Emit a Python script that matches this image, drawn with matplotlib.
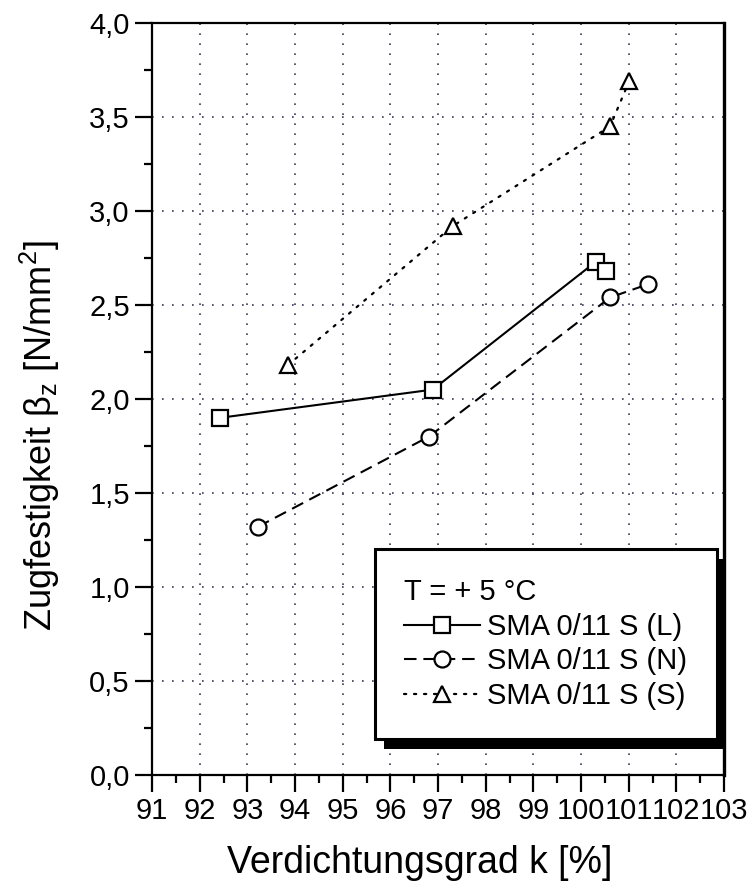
import matplotlib
matplotlib.use('Agg')
from matplotlib import pyplot as plt
from matplotlib.ticker import MultipleLocator, FuncFormatter
from matplotlib.patches import Rectangle
from matplotlib.transforms import IdentityTransform

x_L = [92.43, 96.89, 100.31, 100.52]
y_L = [1.90, 2.05, 2.73, 2.68]
x_N = [93.22, 96.81, 100.61, 101.40]
y_N = [1.32, 1.80, 2.54, 2.61]
x_S = [93.85, 97.31, 100.61, 101.01]
y_S = [2.18, 2.92, 3.45, 3.69]
labels = ["SMA 0/11 S (L)", "SMA 0/11 S (N)", "SMA 0/11 S (S)"]
legend_title = "T = + 5 °C"

plt.rcParams['font.family'] = ['Liberation Sans', 'DejaVu Sans']
plt.rcParams['mathtext.default'] = 'regular'

fig = plt.figure(figsize=(7.54, 8.88), dpi=100)
ax = fig.add_axes([152 / 754, 1 - 775 / 888, 572 / 754, 752 / 888])

mk = dict(markerfacecolor='white', markeredgecolor='black', markeredgewidth=1.6)
ax.plot(x_L, y_L, '-', color='black', lw=1.5, marker='s', markersize=11, label=labels[0], **mk)
ax.plot(x_N, y_N, color='black', lw=1.5, ls=(0, (6, 3.3)), marker='o', markersize=11.5, label=labels[1], **mk)
ax.plot(x_S, y_S, color='black', lw=1.6, ls=(0, (1, 3.5)), dash_capstyle='round',
        marker='^', markersize=12, label=labels[2], **mk)

ax.set_xlim(91, 103)
ax.set_ylim(0, 4.0)
ax.xaxis.set_major_locator(MultipleLocator(1))
ax.xaxis.set_minor_locator(MultipleLocator(0.5))
ax.yaxis.set_major_locator(MultipleLocator(0.5))
ax.yaxis.set_minor_locator(MultipleLocator(0.25))
ax.yaxis.set_major_formatter(FuncFormatter(lambda v, p: f"{v:.1f}".replace('.', ',')))
ax.xaxis.set_major_formatter(FuncFormatter(lambda v, p: f"{v:.0f}"))

ax.tick_params(which='major', direction='out', length=12, width=1.6, labelsize=21, pad=4)
ax.tick_params(which='minor', direction='out', length=6, width=1.6)
ax.grid(True, which='major', color='#3a3a5a', lw=1.2, ls=(0, (1, 5)))

for s in ['left', 'bottom', 'top']:
    ax.spines[s].set_linewidth(1.6)
ax.spines['right'].set_linewidth(2.4)

ax.set_xlabel("Verdichtungsgrad k [%]", fontsize=27)
ax.xaxis.set_label_coords(0.4685, -0.093)
ax.set_ylabel("Zugfestigkeit β$_{z}$ [N/mm$^{2}$]", fontsize=26)
ax.yaxis.set_label_coords(-0.157, 0.451)

leg = ax.legend(loc='lower left', bbox_to_anchor=(0.39, 0.048), borderaxespad=0,
                title=legend_title, fontsize=21, title_fontsize=21, alignment='left',
                handlelength=2.6, handletextpad=0.25, labelspacing=0.22, borderpad=1.0,
                fancybox=False, edgecolor='black', framealpha=1, numpoints=1)
leg.get_frame().set_linewidth(2.2)

# heavy black drop shadow like the original
fig.canvas.draw()
bb = leg.get_window_extent()
shadow = Rectangle((bb.x0 + 9, bb.y0 - 10), bb.width, bb.height, transform=IdentityTransform(),
                   facecolor='black', edgecolor='none', zorder=4.9, clip_on=False)
ax.add_artist(shadow)

plt.savefig("out.png", dpi=100)
